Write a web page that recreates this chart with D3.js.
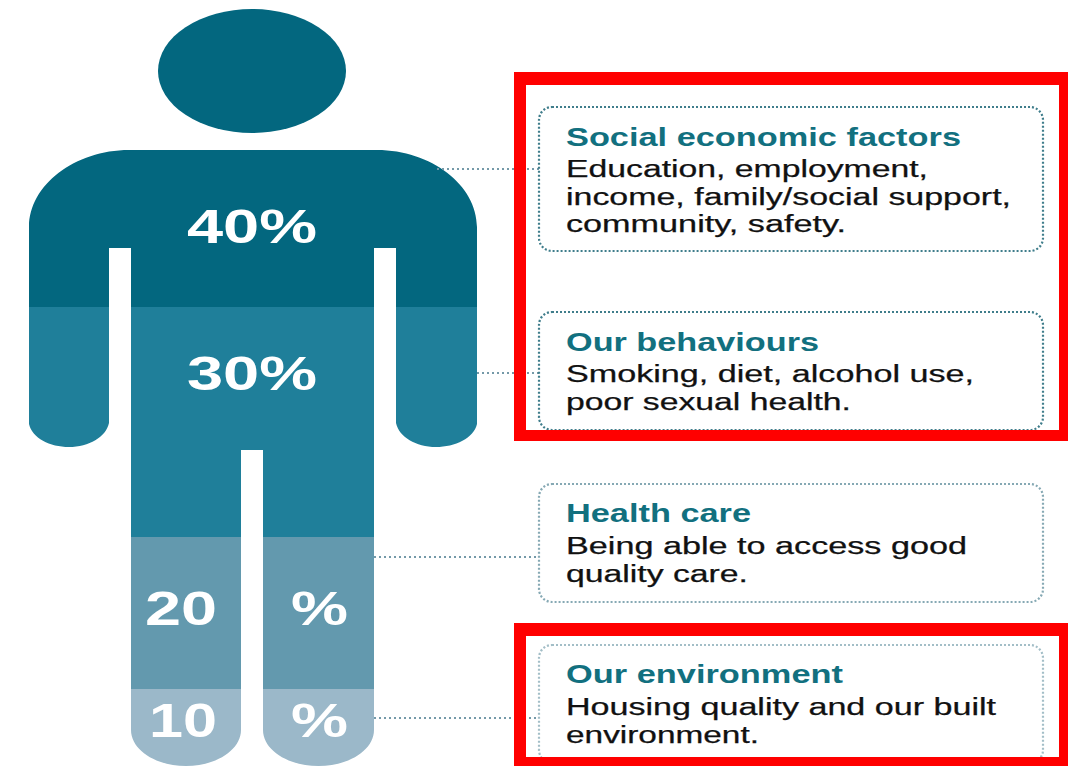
<!DOCTYPE html>
<html>
<head>
<meta charset="utf-8">
<script src="https://cdn.jsdelivr.net/npm/d3@7"></script>
<style>
  html, body { margin: 0; padding: 0; background: #fff; }
  svg { display: block; }
  text { font-family: "Liberation Sans", Arial, sans-serif; }
</style>
</head>
<body>
<svg id="chart" width="1068" height="766"></svg>
<script>
// Share of health outcomes by determinant, top of the figure to the bottom
const shares = [40, 30, 20, 10];
const bandColours = ["#03677f", "#1f7f9a", "#6399ae", "#9bb8c9"];
const titles = ["Social economic factors", "Our behaviours", "Health care", "Our environment"];
const descriptions = [
  ["Education, employment,", "income, family/social support,", "community, safety."],
  ["Smoking, diet, alcohol use,", "poor sexual health."],
  ["Being able to access good", "quality care."],
  ["Housing quality and our built", "environment."]
];

// Layout: the body regions are not drawn to scale, so the cumulative share maps piecewise
const bandEdges = [0, 307, 537, 689, 770];
const boxTops = [107, 312, 484, 645];
const boxHeights = [144, 118, 118, 118];
const leaderY = [169, 373, 557, 718];
const leaderX = [437, 477, 374, 374];
const boxStrokes = ["#3f7d8b", "#3f7d8b", "#86a9b4", "#a3bec7"];
const titleBaselines = [146, 351, 522, 683];
const titleEnds = [960, 818, 750, 842];
const lineBaselines = [[177, 205, 232], [382, 410], [554, 582], [715, 743]];
const lineEnds = [[927, 1010, 845], [973, 850], [966, 747], [995, 758]];
const valueBaselines = [243, 390, 625, 737];

const svg = d3.select("#chart");
const cumulative = d3.cumsum(shares);
const yBand = d3.scaleLinear().domain([0, ...cumulative]).range(bandEdges);

// Silhouette of torso, arms and legs, used to clip the coloured bands
const body = d3.path();
body.moveTo(29, 227);
body.bezierCurveTo(29, 185, 75, 150, 129, 150);
body.lineTo(377, 150);
body.bezierCurveTo(431, 150, 477, 185, 477, 227);
body.lineTo(477, 424);
body.bezierCurveTo(474, 438, 455, 447, 436, 447);
body.bezierCurveTo(416, 447, 399, 437, 396, 423);
body.lineTo(396, 248);
body.lineTo(374, 248);
body.lineTo(374, 730);
body.bezierCurveTo(374, 750, 349, 766, 318.5, 766);
body.bezierCurveTo(288, 766, 263, 750, 263, 730);
body.lineTo(263, 450);
body.lineTo(241, 450);
body.lineTo(241, 730);
body.bezierCurveTo(241, 750, 216, 766, 186, 766);
body.bezierCurveTo(156, 766, 131, 750, 131, 730);
body.lineTo(131, 248);
body.lineTo(109, 248);
body.lineTo(109, 423);
body.bezierCurveTo(106, 437, 89, 447, 69, 447);
body.bezierCurveTo(50, 447, 32, 438, 29, 424);
body.closePath();

svg.append("clipPath").attr("id", "figure").append("path").attr("d", body.toString());

svg.append("ellipse")
  .attr("cx", 252).attr("cy", 71).attr("rx", 94).attr("ry", 62)
  .attr("fill", bandColours[0]);

svg.append("g").attr("clip-path", "url(#figure)")
  .selectAll("rect").data(shares).join("rect")
  .attr("x", 0).attr("width", 520)
  .attr("y", (d, i) => yBand(i ? cumulative[i - 1] : 0))
  .attr("height", (d, i) => yBand(cumulative[i]) - yBand(i ? cumulative[i - 1] : 0))
  .attr("fill", (d, i) => bandColours[i]);

// Percentages: the torso values sit whole, the leg values straddle the gap between legs
const stretched = (sel, x, end, y, size, text) => sel.append("text")
  .attr("x", x).attr("y", y)
  .attr("font-size", size).attr("font-weight", 700)
  .attr("textLength", end - x).attr("lengthAdjust", "spacingAndGlyphs")
  .text(text);

const values = svg.append("g").attr("fill", "#ffffff");
shares.forEach((v, i) => {
  if (i < 2) {
    stretched(values, 187, 317, valueBaselines[i], 48, `${v}%`);
  } else {
    stretched(values, i === 2 ? 145 : 149, 217, valueBaselines[i], 48, `${v}`);
    stretched(values, 291, 348, valueBaselines[i], 48, "%");
  }
});

// Dotted leaders from the figure to each text box
svg.append("g").selectAll("line").data(leaderY).join("line")
  .attr("x1", (d, i) => leaderX[i]).attr("x2", 539)
  .attr("y1", d => d).attr("y2", d => d)
  .attr("stroke", "#7499a8").attr("stroke-width", 2)
  .attr("stroke-dasharray", "2 3");

// Text boxes
svg.append("g").selectAll("rect").data(boxTops).join("rect")
  .attr("x", 539).attr("width", 504)
  .attr("y", d => d)
  .attr("height", (d, i) => boxHeights[i])
  .attr("rx", 13).attr("ry", 13)
  .attr("fill", "none")
  .attr("stroke", (d, i) => boxStrokes[i])
  .attr("stroke-width", 2.2)
  .attr("stroke-dasharray", "2 2");

titles.forEach((t, i) => {
  const g = svg.append("g");
  stretched(g, 566, titleEnds[i] + 1, titleBaselines[i], 25, t).attr("fill", "#12707f");
  descriptions[i].forEach((line, j) => {
    stretched(g, 566, lineEnds[i][j] + 1, lineBaselines[i][j], 23, line)
      .attr("font-weight", 400).attr("fill", "#111111")
      .attr("stroke", "#111111").attr("stroke-width", 0.25);
  });
});

// Red highlight frames laid over the first, second and fourth boxes
const frame = (x0, y0, x1, y1, ix0, iy0, ix1, iy1) =>
  `M${x0},${y0}H${x1}V${y1}H${x0}Z M${ix0},${iy0}H${ix1}V${iy1}H${ix0}Z`;
svg.append("g").attr("fill", "#ff0000").attr("fill-rule", "evenodd")
  .selectAll("path")
  .data([
    frame(514, 72, 1068, 441, 526, 85, 1059, 430),
    frame(514, 623, 1068, 766, 526, 636, 1059, 757)
  ])
  .join("path").attr("d", d => d);
</script>
</body>
</html>
